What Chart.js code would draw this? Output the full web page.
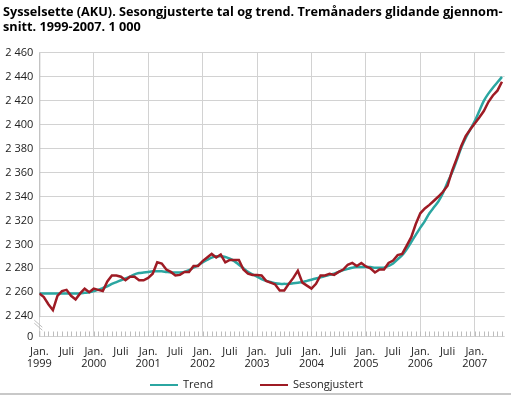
<!DOCTYPE html>
<html>
<head>
<meta charset="utf-8">
<script src="https://cdn.jsdelivr.net/npm/chart.js@4.4.0/dist/chart.umd.min.js"></script>
<style>
  html, body { margin: 0; padding: 0; background: #fff; }
  #wrap { position: relative; width: 511px; height: 396px; }
  #legend { position: absolute; top: 376px; left: 0; width: 511px; height: 16px;
            font-family: 'Open Sans', sans-serif; font-size: 11px; color: #222; }
  #legend .item { position: absolute; top: 0; height: 16px; line-height: 16px; white-space: nowrap; }
  #legend .line { display: inline-block; width: 28px; height: 2.5px; margin-right: 5px; vertical-align: middle; }
</style>
</head>
<body>
<div id="wrap">
  <canvas id="sysselsette" width="511" height="396"></canvas>
  <div id="legend"></div>
</div>
<script>
// months counted from Jan. 1999 (0) to Jul. 2007 (102)
const years = [1999, 2000, 2001, 2002, 2003, 2004, 2005, 2006, 2007];
const yTicks = [2240, 2260, 2280, 2300, 2320, 2340, 2360, 2380, 2400, 2420, 2440, 2460];
const seriesNames = ['Trend', 'Sesongjustert'];
const seriesColors = ['#2ba6a1', '#9e1b24'];

const trend = [
  2259, 2259, 2259, 2259, 2259, 2259, 2259, 2259, 2259, 2259, 2259.5, 2260,
  2261, 2262, 2263.5, 2265, 2267, 2268.5, 2270, 2271.5, 2273, 2275, 2276, 2276.5,
  2277, 2277.5, 2277.5, 2277.5, 2277, 2276.5, 2276.5, 2276.5, 2277, 2278.5, 2280.5, 2282.5,
  2285, 2287, 2289, 2290, 2290, 2289.5, 2288, 2286, 2283, 2280, 2277, 2275,
  2273, 2271, 2269.5, 2268.5, 2267.5, 2267, 2267, 2267, 2267.5, 2268, 2268.5, 2269.5,
  2270.5, 2271.5, 2272.5, 2273.5, 2274.5, 2275.5, 2277, 2278.5, 2279.5, 2280.5, 2281, 2281,
  2281, 2281, 2280.5, 2280.5, 2280.5, 2282, 2284, 2287.5, 2291, 2296, 2302, 2308,
  2314, 2319.5, 2326, 2331, 2336, 2343, 2352, 2360, 2370, 2380.5, 2389, 2396,
  2403, 2411.5, 2420, 2426, 2431, 2435.5, 2440
];

const sesongjustert = [
  2259, 2256, 2250, 2245, 2257, 2261, 2262, 2257, 2254, 2259, 2263, 2260,
  2263, 2262, 2261, 2269, 2274, 2274, 2273, 2270, 2273, 2273, 2270, 2270,
  2272, 2275.5, 2285, 2284, 2279, 2277, 2274, 2274.5, 2277, 2277, 2282, 2282,
  2286, 2289, 2292, 2289, 2291.5, 2285, 2287, 2287, 2287, 2279, 2275.5, 2274.5,
  2274.5, 2274, 2269.5, 2268, 2266.5, 2261.5, 2261.5, 2267, 2272, 2278, 2268, 2265.5,
  2263, 2267, 2274, 2274, 2275.5, 2274.5, 2277, 2279, 2283, 2284.5, 2282, 2284.5,
  2281.5, 2280, 2276.5, 2279, 2279, 2284.5, 2286.5, 2291, 2292, 2299, 2306, 2317,
  2326, 2330, 2333, 2336.5, 2340, 2344, 2349, 2361.5, 2371.5, 2382, 2390.5, 2396,
  2401, 2406, 2411.5, 2419, 2424.5, 2428.5, 2436
];

const months = trend.map((v, i) => i);
const Y_BREAK = 2223; // bottom of the broken axis, shown as 0
const X_MAX = 102.6;

// axis line with break marks, month ticks and bottom rule
const axisDecor = {
  id: 'axisDecor',
  beforeDatasetsDraw(chart) {
    const ctx = chart.ctx;
    const area = chart.chartArea;
    const x = chart.scales.x;
    const y = chart.scales.y;
    const yBreak = y.getPixelForValue(2240);
    ctx.save();
    ctx.strokeStyle = '#bdbdbd';
    ctx.lineWidth = 1;
    ctx.beginPath();
    ctx.moveTo(area.left + 0.5, area.top);
    ctx.lineTo(area.left + 0.5, yBreak + 1);
    ctx.moveTo(area.left + 0.5, yBreak + 15);
    ctx.lineTo(area.left + 0.5, area.bottom);
    // break marks
    ctx.moveTo(area.left - 5, yBreak + 4);
    ctx.lineTo(area.left + 3, yBreak + 11);
    ctx.moveTo(area.left - 5, yBreak + 7);
    ctx.lineTo(area.left + 3, yBreak + 14);
    // month ticks
    months.forEach(m => {
      const px = Math.round(x.getPixelForValue(m)) + 0.5;
      ctx.moveTo(px, area.bottom);
      ctx.lineTo(px, area.bottom - 5);
    });
    ctx.stroke();
    ctx.fillStyle = '#c8c8c8';
    ctx.fillRect(0, chart.height - 3, chart.width, 2);
    ctx.restore();
  }
};

const ctx = document.getElementById('sysselsette').getContext('2d');
const chart = new Chart(ctx, {
  type: 'line',
  data: {
    labels: months,
    datasets: [
      {
        label: seriesNames[0],
        data: months.map(m => ({ x: m, y: trend[m] })),
        borderColor: seriesColors[0],
        backgroundColor: seriesColors[0],
        borderWidth: 2.5,
        pointRadius: 0,
        tension: 0.3,
        order: 1
      },
      {
        label: seriesNames[1],
        data: months.map(m => ({ x: m, y: sesongjustert[m] })),
        borderColor: seriesColors[1],
        backgroundColor: seriesColors[1],
        borderWidth: 2.5,
        pointRadius: 0,
        tension: 0,
        order: 0
      }
    ]
  },
  options: {
    responsive: false,
    animation: false,
    layout: { padding: { left: 3, right: 6, top: 0, bottom: 23.5 } },
    scales: {
      x: {
        type: 'linear',
        min: 0,
        max: X_MAX,
        afterBuildTicks: scale => { scale.ticks = months.map(m => ({ value: m })); },
        afterFit: scale => { scale.height = 36; },
        border: { display: false },
        grid: {
          drawTicks: false,
          color: c => (c.tick && c.tick.value % 12 === 0 ? '#d2d2d2' : 'rgba(0,0,0,0)')
        },
        ticks: {
          autoSkip: false,
          maxRotation: 0,
          padding: 9,
          color: '#222',
          font: { family: 'Open Sans', size: 11, lineHeight: 1.1 },
          callback: v => {
            if (v % 12 === 0) return ['Jan.', String(years[v / 12])];
            if (v % 12 === 6 && v < 100) return 'Juli';
            return '';
          }
        }
      },
      y: {
        min: Y_BREAK,
        max: 2460,
        afterBuildTicks: scale => {
          scale.ticks = [{ value: Y_BREAK }].concat(yTicks.map(v => ({ value: v })));
        },
        afterFit: scale => { scale.width = 36.3; },
        border: { display: false },
        grid: { drawTicks: false, color: '#d2d2d2' },
        ticks: {
          padding: 6,
          color: '#222',
          font: { family: 'Open Sans', size: 11 },
          callback: v => (v < 2240 ? '0' : String(v).replace(/(\d)(\d{3})$/, '$1 $2'))
        }
      }
    },
    plugins: {
      title: {
        display: true,
        align: 'start',
        text: [
          'Sysselsette (AKU). Sesongjusterte tal og trend. Tremånaders glidande gjennom-',
          'snitt. 1999-2007. 1 000'
        ],
        color: '#000',
        font: { family: 'Open Sans', size: 12.7, weight: 'bold', lineHeight: 1.2 },
        padding: { top: 5, bottom: 17.5 }
      },
      legend: { display: false },
      tooltip: { enabled: false }
    }
  },
  plugins: [axisDecor]
});

// legend
const legendLeft = [150, 260];
const legend = document.getElementById('legend');
seriesNames.forEach((name, i) => {
  const item = document.createElement('div');
  item.className = 'item';
  item.style.left = legendLeft[i] + 'px';
  item.innerHTML = '<span class="line" style="background:' + seriesColors[i] + '"></span>' + name;
  legend.appendChild(item);
});
</script>
</body>
</html>
